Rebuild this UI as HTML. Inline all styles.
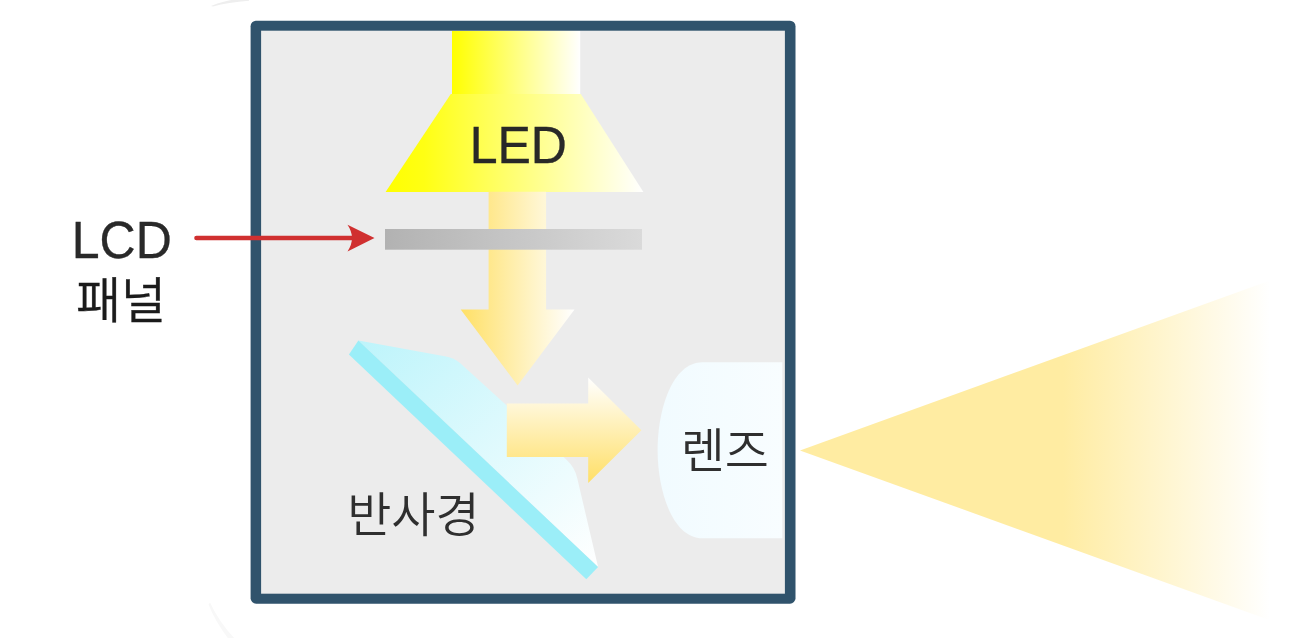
<!DOCTYPE html>
<html lang="ko">
<head>
<meta charset="utf-8">
<title>LCD 프로젝터 구조</title>
<style>
html,body{margin:0;padding:0;background:#fff;}
body{width:1300px;height:638px;overflow:hidden;position:relative;}
svg{position:absolute;left:0;top:0;display:block;}
text{font-family:"Liberation Sans","Noto Sans CJK KR",sans-serif;}
.ko{font-family:"Liberation Sans","Noto Sans CJK KR","NanumGothic",sans-serif;font-weight:350;}
</style>
</head>
<body>
<svg width="1300" height="638" viewBox="0 0 1300 638">
  <defs>
    <linearGradient id="gLed" x1="0" y1="0" x2="1" y2="0">
      <stop offset="0" stop-color="#ffff00"/>
      <stop offset="1" stop-color="#ffffff"/>
    </linearGradient>
    <linearGradient id="gLed2" x1="0" y1="0" x2="1" y2="0">
      <stop offset="0" stop-color="#ffff00"/>
      <stop offset="0.15" stop-color="#ffff14"/>
      <stop offset="1" stop-color="#ffffff"/>
    </linearGradient>
    <linearGradient id="gDown" x1="0" y1="0" x2="1" y2="0">
      <stop offset="0" stop-color="#ffe066"/>
      <stop offset="1" stop-color="#ffffff"/>
    </linearGradient>
    <linearGradient id="gRight" x1="0" y1="0" x2="0" y2="1">
      <stop offset="0" stop-color="#ffffff"/>
      <stop offset="1" stop-color="#ffdf66"/>
    </linearGradient>
    <linearGradient id="gLcd" x1="0" y1="0" x2="1" y2="0">
      <stop offset="0" stop-color="#b2b2b2"/>
      <stop offset="1" stop-color="#dadada"/>
    </linearGradient>
    <linearGradient id="gMirror" x1="0" y1="0" x2="1" y2="1">
      <stop offset="0" stop-color="#bdf4fb"/>
      <stop offset="1" stop-color="#ffffff"/>
    </linearGradient>
    <linearGradient id="gCone" gradientUnits="userSpaceOnUse" x1="800" y1="0" x2="1270" y2="0">
      <stop offset="0" stop-color="#ffeca2"/>
      <stop offset="0.56" stop-color="#ffeca2"/>
      <stop offset="1" stop-color="#ffffff"/>
    </linearGradient>
    <filter id="soft" x="-20%" y="-50%" width="140%" height="200%"><feGaussianBlur stdDeviation="0.7"/></filter>
    <linearGradient id="gLens" x1="0" y1="0" x2="1" y2="0">
      <stop offset="0" stop-color="#f1fbff"/>
      <stop offset="1" stop-color="#f8fdff"/>
    </linearGradient>
  </defs>

  <!-- housing -->
  <path d="M211,6 Q224,0.5 236,-0.5 L249,-0.5 L249,0.8 Q228,2.2 213,6.6 Z" fill="#eeeeee" filter="url(#soft)"/>
  <path d="M210,602.5 Q219,622 235,639 L228.5,639 Q215.5,622 208.5,604.5 Z" fill="#f8f8f8" filter="url(#soft)"/>
  <rect x="250.6" y="20.7" width="544.9" height="583" rx="5.5" ry="5.5" fill="#30536c"/>
  <rect x="261.1" y="30.7" width="523.8" height="563" fill="#ececec"/>

  <!-- LED -->
  <rect x="452" y="31" width="128.2" height="63.5" fill="url(#gLed)"/>
  <polygon points="450.8,94 580.8,94 643.4,192 385.6,192" fill="url(#gLed2)"/>

  <!-- down arrow -->
  <polygon points="488.6,191.8 546.1,191.8 546.1,309.4 574.5,309.4 517.6,385.4 460.7,309.4 488.6,309.4" fill="url(#gDown)"/>

  <!-- LCD panel -->
  <rect x="385" y="229" width="257" height="20.7" fill="url(#gLcd)"/>

  <!-- mirror -->
  <path d="M358.4,340.6 L446,356.4 Q454,357.8 460,363 L566,459.3 Q575,467.5 577.3,478.5 L598.1,567 Z" fill="url(#gMirror)"/>
  <polygon points="358.4,340.6 598.1,567 586.3,579.3 348.9,354.6" fill="#9beef8"/>

  <!-- right arrow -->
  <polygon points="506.8,403.6 588.2,403.6 588.2,377.6 641.4,430.3 588.2,483 588.2,456.9 506.8,456.9" fill="url(#gRight)"/>

  <!-- lens -->
  <path d="M782.3,362.3 L702.5,362.3 C672,362.4 657.6,410 657.6,450.3 C657.6,490 672,538.3 702.5,538.3 L782.3,538.3 Z" fill="url(#gLens)"/>

  <!-- light cone -->
  <polygon points="800,450.4 1270,280.5 1270,620.3" fill="url(#gCone)"/>

  <!-- red pointer -->
  <line x1="196.4" y1="238" x2="356" y2="238" stroke="#d03030" stroke-width="4.4" stroke-linecap="round"/>
  <path d="M374.5,238 L347.5,224.7 Q356.5,238 347.5,251.4 Z" fill="#d03030"/>

  <!-- labels -->
  <g opacity="0.995">
  <g fill="#282828" stroke="#282828" stroke-width="0.35">
  <text transform="translate(518.3,162.8) scale(1,1.03)" font-size="50" text-anchor="middle">LED</text>
  <text transform="translate(121.75,257.9) scale(1,1.03)" font-size="50" text-anchor="middle">LCD</text>
  </g>
  <text class="ko" x="121" y="318.3" font-size="49" text-anchor="middle" fill="#1a1a1a" stroke="#1a1a1a" stroke-width="0.35">패널</text>
  <text class="ko" x="413.4" y="532.2" font-size="48" text-anchor="middle" fill="#2e2e2e">반사경</text>
  <text class="ko" x="724.8" y="468.2" font-size="48" text-anchor="middle" fill="#2e2e2e">렌즈</text>
  </g>
</svg>
</body>
</html>
